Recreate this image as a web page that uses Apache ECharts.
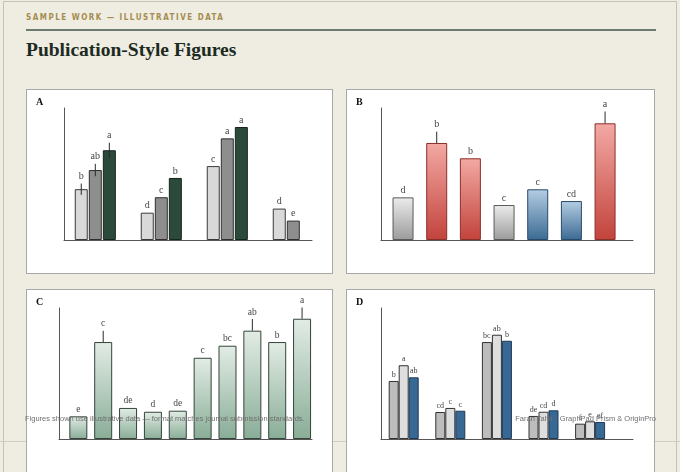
<!DOCTYPE html>
<html lang="en">
<head>
<meta charset="UTF-8">
<title>Publication-Style Figures</title>
<script src="https://cdn.jsdelivr.net/npm/echarts@6/dist/echarts.min.js"></script>
<style>
  html, body {
    margin: 0;
    padding: 0;
    width: 680px;
    height: 472px;
    overflow: hidden;
    background: #efede2;
  }
  .sheet {
    position: absolute;
    left: 3px;
    top: 1px;
    width: 672px;
    height: 480px;
    border: 1px solid #c4c2b4;
  }
  .baseline-rule {
    position: absolute;
    left: 0;
    top: 441px;
    width: 680px;
    height: 0;
    border-top: 1px solid #cfcdc0;
  }
  .kicker {
    position: absolute;
    left: 26px;
    top: 13px;
    font: bold 8px "DejaVu Sans Condensed", "DejaVu Sans", sans-serif;
    font-stretch: condensed;
    letter-spacing: 1.5px;
    color: #a58c4f;
  }
  .rule {
    position: absolute;
    left: 26px;
    top: 29px;
    width: 630px;
    height: 2px;
    background: #6f7b72;
  }
  h1 {
    position: absolute;
    left: 26px;
    top: 39px;
    margin: 0;
    font: bold 19.5px "Liberation Serif", serif;
    color: #1c2a22;
  }
  .panel {
    position: absolute;
    background: #fff;
    border: 1px solid #a8a8a4;
    height: 183px;
  }
  .panel .tag {
    position: absolute;
    left: 9px;
    top: 6px;
    font: bold 10px "Liberation Serif", serif;
    color: #111;
    z-index: 2;
  }
  .panel .chart {
    position: absolute;
    left: 0;
    top: 0;
    width: 100%;
    height: 100%;
  }
  .foot {
    position: absolute;
    top: 414px;
    font: 7.5px "Liberation Sans", Arial, sans-serif;
    color: #6f6f6f;
    z-index: 5;
    white-space: nowrap;
  }
</style>
</head>
<body>
<div class="sheet"></div>
<div class="baseline-rule"></div>
<div class="kicker">SAMPLE WORK — ILLUSTRATIVE DATA</div>
<div class="rule"></div>
<h1>Publication-Style Figures</h1>

<div class="panel" style="left:26px; top:89px; width:305px;"><span class="tag">A</span><div class="chart" id="chartA"></div></div>
<div class="panel" style="left:346px; top:89px; width:307px;"><span class="tag">B</span><div class="chart" id="chartB"></div></div>
<div class="panel" style="left:26px; top:289px; width:305px;"><span class="tag">C</span><div class="chart" id="chartC"></div></div>
<div class="panel" style="left:346px; top:289px; width:307px;"><span class="tag">D</span><div class="chart" id="chartD"></div></div>

<div class="foot" style="left:25px;">Figures shown use illustrative data — format matches journal submission standards.</div>
<div class="foot" style="right:24px;">Faran Tahir · GraphPad Prism &amp; OriginPro</div>

<script>
// ---- data ----
// A: grouped bars, 4 groups x 3 levels
var catsA = ['G1', 'G2', 'G3', 'G4'];
var aLow = [38.5, 20.7, 56, 23.8];
var aMid = [53, 32.4, 77, 14.7];
var aHigh = [68, 47, 85.6, null];
var aLowErr = [4.3, 0, 0, 0];
var aMidErr = [4.7, 0, 0, 0];
var aHighErr = [5.7, 0, 0, 0];
var aLowSig = ['b', 'd', 'c', 'd'];
var aMidSig = ['ab', 'c', 'a', 'e'];
var aHighSig = ['a', 'b', 'a', ''];

// B: single bars, treatment type decides the colour
var catsB = ['T1', 'T2', 'T3', 'T4', 'T5', 'T6', 'T7'];
var bValues = [32.3, 73.5, 61.9, 26.5, 38.4, 29.5, 88.4];
var bErr = [0, 8.6, 0, 0, 0, 0, 8.9];
var bSig = ['d', 'b', 'b', 'c', 'c', 'cd', 'a'];
var bType = ['control', 'high', 'high', 'control', 'low', 'low', 'high'];

// C: ten treatments
var catsC = ['1', '2', '3', '4', '5', '6', '7', '8', '9', '10'];
var cValues = [17.3, 74, 23.7, 20.8, 21.6, 62, 71.2, 82.7, 74, 91.8];
var cErr = [0, 8.6, 0, 0, 0, 0, 0, 8.9, 0, 8.6];
var cSig = ['e', 'c', 'de', 'd', 'de', 'c', 'bc', 'ab', 'b', 'a'];

// D: grouped bars, 5 groups x 3 levels
var catsD = ['S1', 'S2', 'S3', 'S4', 'S5'];
var dFirst = [44.3, 20.6, 74, 17.6, 11.7];
var dSecond = [56.3, 23.7, 79.6, 20.8, 13.5];
var dThird = [47.1, 21.6, 75, 21.9, 13];
var dFirstSig = ['b', 'cd', 'bc', 'de', 'f'];
var dSecondSig = ['a', 'c', 'ab', 'cd', 'e'];
var dThirdSig = ['ab', 'c', 'b', 'd', 'ef'];

var yMax = 100;

function vgrad(top, bottom) {
  return new echarts.graphic.LinearGradient(0, 0, 0, 1, [
    { offset: 0, color: top },
    { offset: 1, color: bottom }
  ]);
}

var typeStyle = {
  control: { color: ['#ececec', '#9b9b9b'], border: '#5a5a5a' },
  high: { color: ['#f3a9a4', '#c2433c'], border: '#8a302b' },
  low: { color: ['#b4cde3', '#3c6a93'], border: '#284a6b' }
};

// letters (+ optional error line) on top of each bar
function sigSeries(idx, n, s, cfg) {
  var step = cfg.barWidth * (1 + cfg.barGap / 100);
  var shift = (idx - (n - 1) / 2) * step;
  return {
    type: 'custom',
    silent: true,
    z: 5,
    xAxisIndex: 0,
    yAxisIndex: 0,
    data: s.values.map(function (v, i) {
      return [i, v == null ? 0 : v, s.errs ? s.errs[i] : 0];
    }),
    renderItem: function (params, api) {
      var i = params.dataIndex;
      var letter = s.sig[i];
      if (!letter) return;
      var v = api.value(1), e = api.value(2);
      var base = api.coord([i, v]);
      var x = base[0] + shift;
      var top = api.coord([i, v + e])[1];
      var kids = [];
      if (e > 0) {
        var low = cfg.errBelow ? api.coord([i, v - e])[1] : base[1];
        kids.push({
          type: 'line',
          shape: { x1: x, y1: top, x2: x, y2: low },
          style: { stroke: '#2a2a2a', lineWidth: 1 }
        });
      }
      kids.push({
        type: 'text',
        style: {
          text: letter,
          x: x,
          y: top - 2,
          align: 'center',
          verticalAlign: 'bottom',
          font: cfg.sigSize + 'px "Liberation Serif", serif',
          fill: '#444'
        }
      });
      return { type: 'group', children: kids };
    }
  };
}

function drawPanel(id, cfg) {
  var chart = echarts.init(document.getElementById(id));
  var series = [];
  cfg.series.forEach(function (s) {
    series.push({
      type: 'bar',
      xAxisIndex: 0,
      yAxisIndex: 0,
      barWidth: cfg.barWidth,
      barGap: cfg.barGap + '%',
      animation: false,
      data: s.values.map(function (v, i) {
        var st = s.styleFor(i);
        return {
          value: v,
          itemStyle: { color: st.color, borderColor: st.border, borderWidth: 1 }
        };
      })
    });
  });
  cfg.series.forEach(function (s, k) {
    series.push(sigSeries(k, cfg.series.length, s, cfg));
  });

  chart.setOption({
    animation: false,
    grid: [
      { left: cfg.plot.left, width: cfg.plot.width, top: cfg.frame.top, height: cfg.frame.height },
      { left: cfg.frame.left, width: cfg.frame.width, top: cfg.frame.top, height: cfg.frame.height }
    ],
    xAxis: [
      { type: 'category', gridIndex: 0, data: cfg.cats, show: false },
      {
        type: 'value', gridIndex: 1, min: 0, max: 1,
        axisLine: { show: true, lineStyle: { color: '#555', width: 1 } },
        axisTick: { show: false }, axisLabel: { show: false }, splitLine: { show: false }
      }
    ],
    yAxis: [
      { type: 'value', gridIndex: 0, min: 0, max: yMax, show: false },
      {
        type: 'value', gridIndex: 1, min: 0, max: 1,
        axisLine: { show: true, lineStyle: { color: '#555', width: 1 } },
        axisTick: { show: false }, axisLabel: { show: false }, splitLine: { show: false }
      }
    ],
    series: series
  });
}

function flat(color, border) {
  return function () { return { color: color, border: border }; };
}
function greenFill() {
  return { color: vgrad('#e2ece5', '#89ad97'), border: '#34443a' };
}

drawPanel('chartA', {
  cats: catsA,
  frame: { left: 37, top: 18, width: 248, height: 132 },
  plot: { left: 35.3, width: 264 },
  barWidth: 13, barGap: 8, errBelow: true, sigSize: 10,
  series: [
    { values: aLow, errs: aLowErr, sig: aLowSig, styleFor: flat('#d9d9d9', '#3a3a3a') },
    { values: aMid, errs: aMidErr, sig: aMidSig, styleFor: flat('#8e8e8e', '#2f2f2f') },
    { values: aHigh, errs: aHighErr, sig: aHighSig, styleFor: flat('#2c4a3a', '#16241c') }
  ]
});

drawPanel('chartB', {
  cats: catsB,
  frame: { left: 34, top: 18, width: 252, height: 132 },
  plot: { left: 39.2, width: 235.7 },
  barWidth: 21, barGap: 0, errBelow: false, sigSize: 10,
  series: [
    {
      values: bValues, errs: bErr, sig: bSig,
      styleFor: function (i) {
        var t = typeStyle[bType[i]];
        return { color: vgrad(t.color[0], t.color[1]), border: t.border };
      }
    }
  ]
});

drawPanel('chartC', {
  cats: catsC,
  frame: { left: 32, top: 18, width: 253, height: 131 },
  plot: { left: 38.9, width: 248.6 },
  barWidth: 18, barGap: 0, errBelow: false, sigSize: 9.5,
  series: [
    { values: cValues, errs: cErr, sig: cSig, styleFor: greenFill }
  ]
});

drawPanel('chartD', {
  cats: catsD,
  frame: { left: 34, top: 18, width: 252, height: 131 },
  plot: { left: 33.4, width: 233 },
  barWidth: 10, barGap: 0, errBelow: false, sigSize: 8,
  series: [
    { values: dFirst, sig: dFirstSig, styleFor: flat('#bdbdbd', '#333') },
    { values: dSecond, sig: dSecondSig, styleFor: flat('#dedede', '#333') },
    { values: dThird, sig: dThirdSig, styleFor: flat('#386894', '#1f3a55') }
  ]
});
</script>
</body>
</html>
